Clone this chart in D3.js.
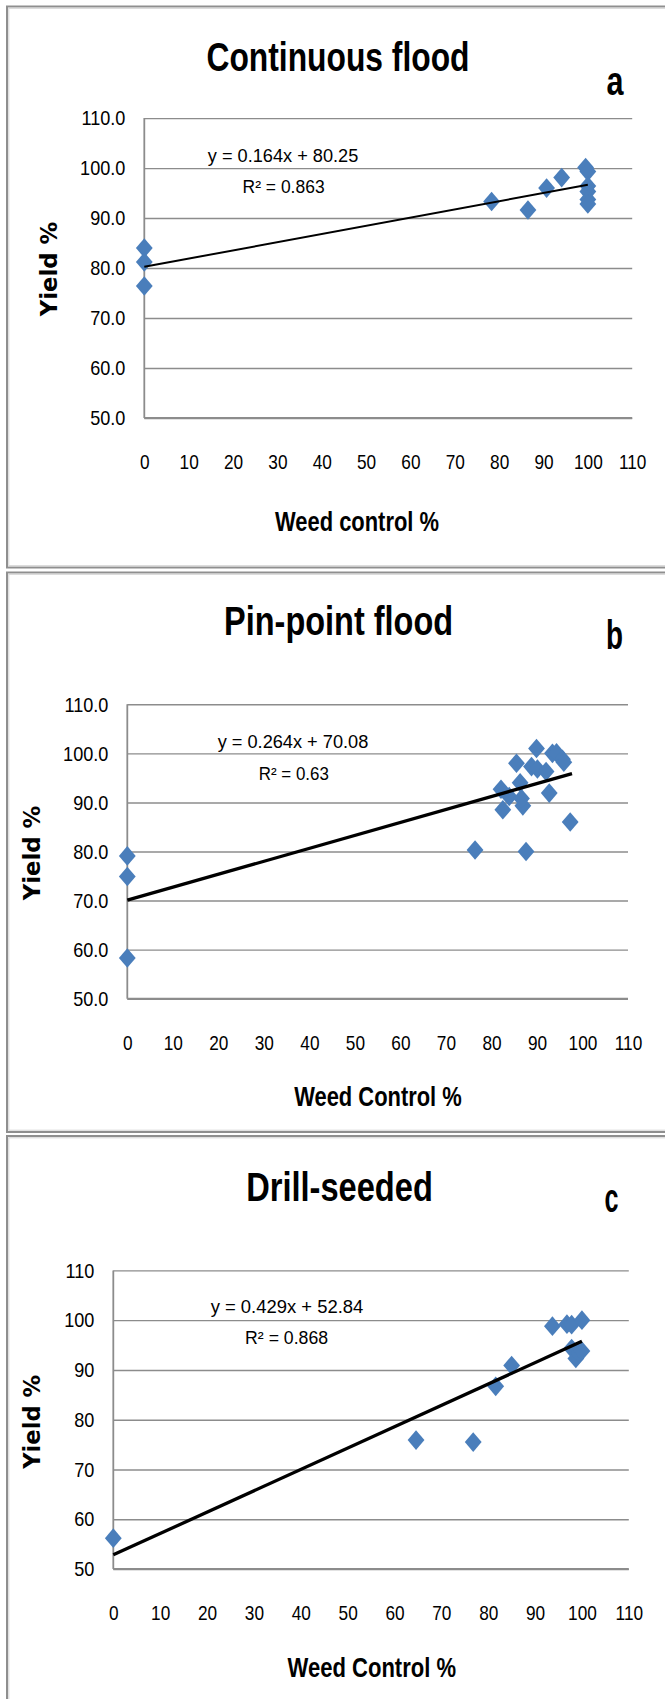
<!DOCTYPE html>
<html><head><meta charset="utf-8">
<script src="https://cdn.jsdelivr.net/npm/d3@7"></script>
<style>body{margin:0;background:#fff}</style></head>
<body><script>
// ---------- data ----------
const xTicks = [0,10,20,30,40,50,60,70,80,90,100,110];
const yTicks = [50,60,70,80,90,100,110];
const titles = ["Continuous flood","Pin-point flood","Drill-seeded"];
const letters = ["a","b","c"];
const xTitles = ["Weed control %","Weed Control %","Weed Control %"];
const yTitle = "Yield %";
const equations = ["y = 0.164x + 80.25","y = 0.264x + 70.08","y = 0.429x + 52.84"];
const rSquared = ["R\u00B2 = 0.863","R\u00B2 = 0.63","R\u00B2 = 0.868"];
const slopes = [0.164,0.264,0.429];
const intercepts = [80.25,70.08,52.84];
const trendEnds = [100,97.7,100];
const tickFormats = [".1f",".1f","d"];

const aWeed  = [0,0,0,78.3,86.5,90.7,94.1,99.5,100,100,100,100,100];
const aYield = [84.0,81.2,76.4,93.3,91.6,96.0,98.1,100.1,99.3,96.4,95.3,93.7,92.8];

const bWeed  = [0,0,0,76.4,87.6,97.3,82.5,86.9,82.1,83.9,86.6,86.3,85.5,92.7,89.9,88.8,90.1,92.0,93.4,94.3,95.6,95.9];
const bYield = [79.1,74.9,58.3,80.3,80.0,86.0,88.5,89.3,92.7,91.2,90.8,94.0,98.0,91.9,101.0,97.3,96.8,96.3,100.0,100.1,98.8,98.2];

const cWeed  = [0,64.6,76.8,81.6,85.0,93.7,96.8,97.8,100,97.8,98.7,99.3,100];
const cYield = [56.2,75.9,75.5,86.7,90.9,98.8,99.2,99.1,100.0,94.3,92.3,93.4,93.8];

const weeds = [aWeed,bWeed,cWeed];
const yields = [aYield,bYield,cYield];

// ---------- layout ----------
const W = 665, H = 1699;
const layout = [
  {box:[6.5,567.5], plot:[144.3,632.2,118.1,418.0], title:[338,71,263], letter:[615,95,17],
   eq:[283,161.7,150.5], r2:[283.6,193.4,82], xt:[357,531,164], yt:[49,269,94.5], trendW:2},
  {box:[572.5,1132], plot:[127.3,628.0,704.3,998.7], title:[338.6,635.4,229], letter:[614.6,649,17],
   eq:[293,748.4,150.6], r2:[293.8,780,70], xt:[378,1105.5,167.6], yt:[32,853,94.7], trendW:3.3},
  {box:[1136,1712], plot:[113.3,628.8,1270.4,1569.0], title:[339.5,1201.3,186.7], letter:[611.6,1212,14],
   eq:[287,1312.9,152.7], r2:[286.6,1344,83], xt:[371.8,1677,168.4], yt:[32,1421.8,94], trendW:3.3}
];

const svg = d3.select("body").append("svg").attr("width",W).attr("height",H);
const SANS = "'Liberation Sans', Arial, sans-serif";

function fitText(sel, width){
  sel.attr("textLength", width).attr("lengthAdjust","spacingAndGlyphs");
}
function condense(sel, factor){
  sel.each(function(){
    const n = this.getComputedTextLength();
    d3.select(this).attr("textLength", n*factor).attr("lengthAdjust","spacingAndGlyphs");
  });
}

const diamond = {
  draw(ctx, size){
    const w = 8.4, h = 9.8;
    ctx.moveTo(0,-h); ctx.lineTo(w,0); ctx.lineTo(0,h); ctx.lineTo(-w,0); ctx.closePath();
  }
};

layout.forEach((L,i)=>{
  const g = svg.append("g");
  // panel border (double line)
  g.append("rect").attr("x",7).attr("y",L.box[0]).attr("width",W+20).attr("height",L.box[1]-L.box[0])
    .attr("fill","none").attr("stroke","#8f8f8f").attr("stroke-width",2);
  g.append("rect").attr("x",8.8).attr("y",L.box[0]+1.8).attr("width",W+20).attr("height",L.box[1]-L.box[0]-3.6)
    .attr("fill","none").attr("stroke","#d4d4d4").attr("stroke-width",1);

  const [x0,x1,y0,y1] = L.plot;
  const x = d3.scaleLinear().domain([0,110]).range([x0,x1]);
  const y = d3.scaleLinear().domain([50,110]).range([y1,y0]);

  // y axis with gridlines
  const ya = g.append("g").attr("transform",`translate(${x0},0)`)
    .call(d3.axisLeft(y).tickValues(yTicks).tickFormat(d3.format(tickFormats[i]))
      .tickSize(-(x1-x0)).tickPadding(19));
  ya.select(".domain").remove();
  ya.selectAll(".tick line").attr("stroke","#8c8c8c").attr("stroke-width",1.4);
  ya.selectAll(".tick text").attr("font-family",SANS).attr("font-size",21).attr("fill","#000")
    .call(condense,0.86);

  // x axis labels
  const xa = g.append("g").attr("transform",`translate(0,${y1})`)
    .call(d3.axisBottom(x).tickValues(xTicks).tickSize(0));
  xa.select(".domain").remove();
  xa.selectAll(".tick text").attr("font-family",SANS).attr("font-size",21).attr("fill","#000")
    .attr("y",44).attr("dy","0.35em").call(condense,0.82);

  // axis lines
  g.append("line").attr("x1",x(0)).attr("x2",x(0)).attr("y1",y(110)).attr("y2",y(50))
    .attr("stroke","#8c8c8c").attr("stroke-width",1.8);
  g.append("line").attr("x1",x(0)).attr("x2",x(110)).attr("y1",y(50)).attr("y2",y(50))
    .attr("stroke","#8c8c8c").attr("stroke-width",1.8);

  // markers
  const pts = weeds[i].map((w,k)=>({w, v:yields[i][k]}));
  g.append("g").selectAll("path").data(pts).join("path")
    .attr("d", d3.symbol().type(diamond))
    .attr("transform", d=>`translate(${x(d.w)},${y(d.v)})`)
    .attr("fill","#4a7ebb");

  // trend line
  const tr = [0, trendEnds[i]].map(w=>({w, v:intercepts[i]+slopes[i]*w}));
  g.append("path").datum(tr)
    .attr("d", d3.line().x(d=>x(d.w)).y(d=>y(d.v)))
    .attr("stroke","#000").attr("stroke-width",L.trendW).attr("fill","none");

  // title
  g.append("text").attr("x",L.title[0]).attr("y",L.title[1]).attr("text-anchor","middle")
    .attr("font-family",SANS).attr("font-weight","bold").attr("font-size",40)
    .text(titles[i]).call(fitText,L.title[2]);
  // panel letter
  g.append("text").attr("x",L.letter[0]).attr("y",L.letter[1]).attr("text-anchor","middle")
    .attr("font-family",SANS).attr("font-weight","bold").attr("font-size",41)
    .text(letters[i]).call(fitText,L.letter[2]);
  // equation and R²
  g.append("text").attr("x",L.eq[0]).attr("y",L.eq[1]).attr("text-anchor","middle")
    .attr("font-family",SANS).attr("font-size",18).text(equations[i]).call(fitText,L.eq[2]);
  g.append("text").attr("x",L.r2[0]).attr("y",L.r2[1]).attr("text-anchor","middle")
    .attr("font-family",SANS).attr("font-size",18).text(rSquared[i]).call(fitText,L.r2[2]);
  // x title
  g.append("text").attr("x",L.xt[0]).attr("y",L.xt[1]).attr("text-anchor","middle")
    .attr("font-family",SANS).attr("font-weight","bold").attr("font-size",27)
    .text(xTitles[i]).call(fitText,L.xt[2]);
  // y title
  g.append("text").attr("transform",`translate(${L.yt[0]},${L.yt[1]}) rotate(-90)`)
    .attr("text-anchor","middle").attr("dy","0.36em")
    .attr("font-family","'DejaVu Sans', Verdana, sans-serif").attr("font-weight","bold").attr("font-size",23)
    .text(yTitle).call(fitText,L.yt[2]);
});
</script></body></html>
